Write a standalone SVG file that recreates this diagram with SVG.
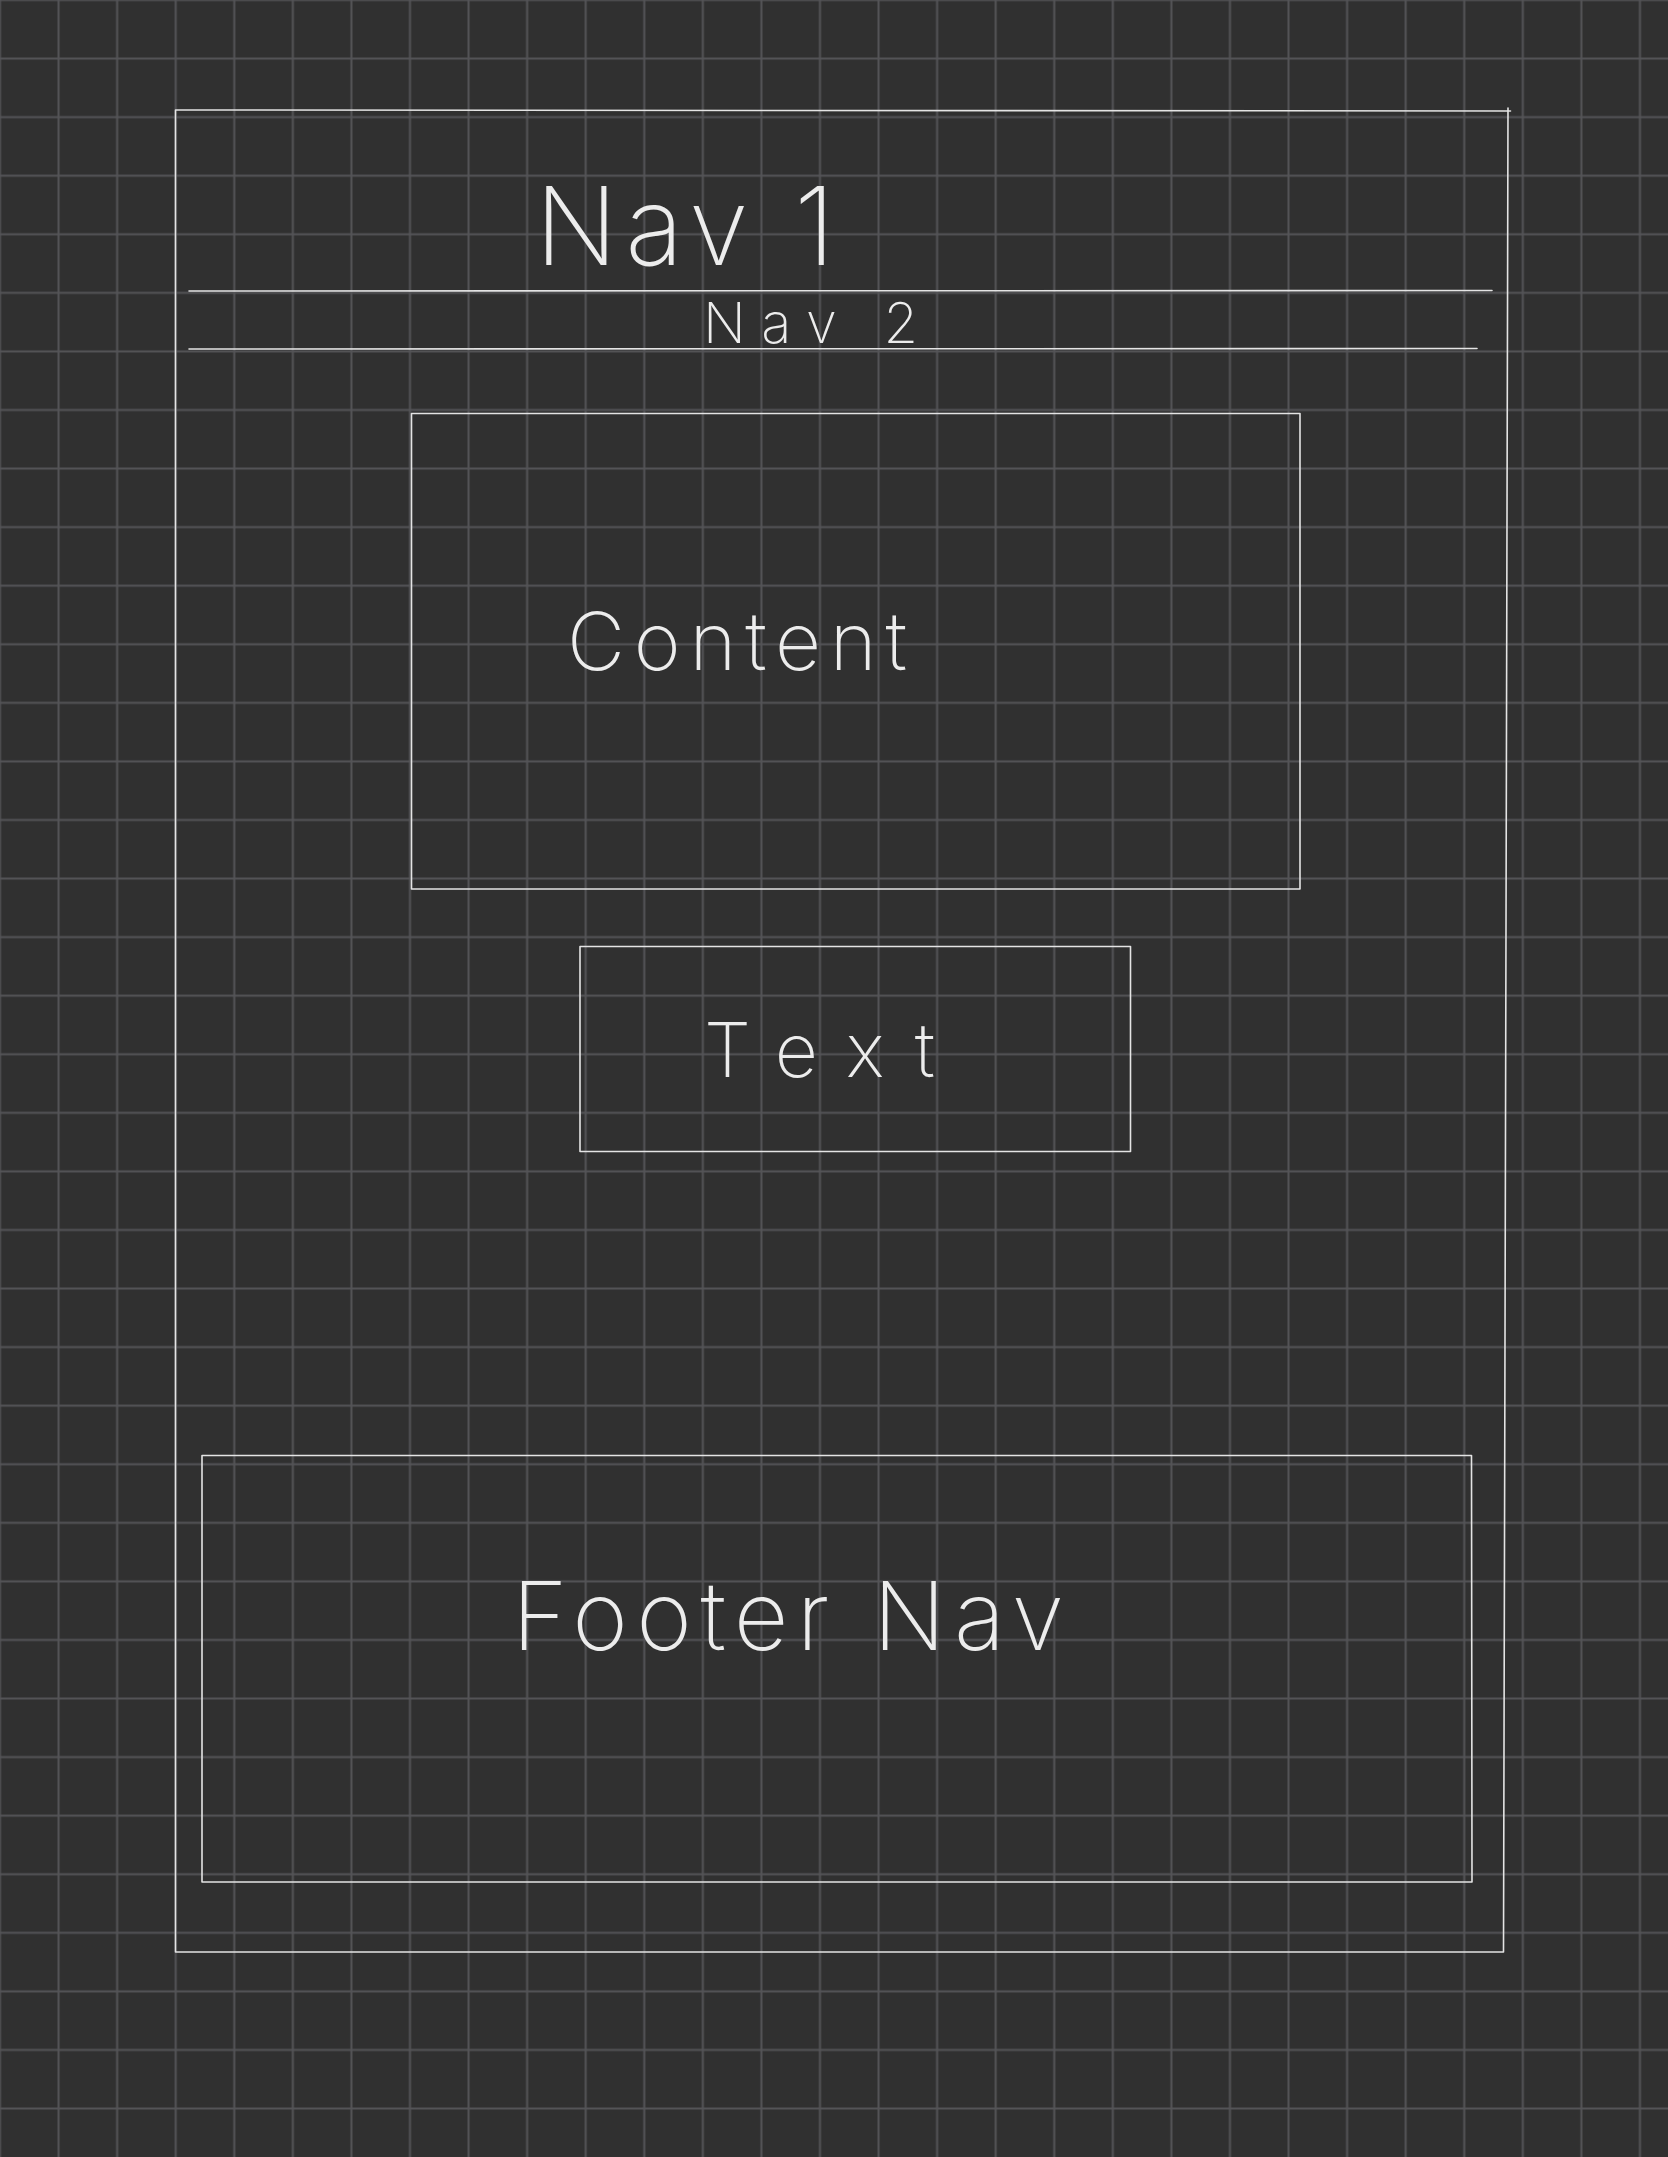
<svg xmlns="http://www.w3.org/2000/svg" width="1668" height="2157" viewBox="0 0 1668 2157">
<style>
.ink{fill:none;stroke:#e4e4e4;stroke-width:1.6;stroke-linecap:round;stroke-linejoin:round}
.hand{fill:#ececec;font-family:Inter,Lato,"Liberation Sans",sans-serif;font-weight:200}
</style>
<defs>
<pattern id="grid" x="-29.285" y="-29.285" width="58.57" height="58.57" patternUnits="userSpaceOnUse">
<path d="M29.285 0V58.57M0 29.285H58.57" stroke="#545457" stroke-width="2" fill="none"/>
</pattern>
</defs>
<rect width="1668" height="2157" fill="#303030"/>
<rect width="1668" height="2157" fill="url(#grid)"/>
<g id="page">
<path class="ink" d="M175.5 110 L1510.5 111 M1508 108 L1503.5 1952 L175.5 1952 L175.5 110"/>
</g>
<g id="nav1">
<line class="ink" x1="189" y1="291" x2="1492" y2="290.5"/>
<text class="hand" x="535" y="265" font-size="108" textLength="300" lengthAdjust="spacing">Nav 1</text>
</g>
<g id="nav2">
<line class="ink" x1="189" y1="349" x2="1477" y2="348.5"/>
<text class="hand" x="703" y="343" font-size="56" textLength="215" lengthAdjust="spacing">Nav 2</text>
</g>
<g id="content">
<rect class="ink" x="411.5" y="413.5" width="888.5" height="475.5"/>
<text class="hand" x="567" y="670" font-size="80" textLength="340" lengthAdjust="spacing">Content</text>
</g>
<g id="text-box">
<rect class="ink" x="580" y="946.5" width="550.5" height="205"/>
<text class="hand" x="704" y="1077" font-size="75" textLength="231" lengthAdjust="spacing">Text</text>
</g>
<g id="footer">
<path class="ink" d="M202 1455.5 L1471.5 1455.5 L1472 1882 L202 1882 Z"/>
<text class="hand" x="512" y="1650" font-size="95" textLength="552" lengthAdjust="spacing">Footer Nav</text>
</g>
<g id="connectors"/>
</svg>
